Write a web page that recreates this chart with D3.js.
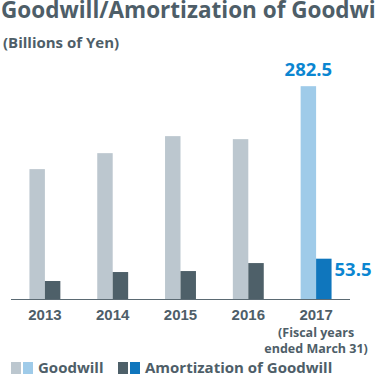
<!DOCTYPE html>
<html>
<head>
  <meta charset="utf-8">
  <title>Goodwill/Amortization of Goodwill</title>
  <script src="https://d3js.org/d3.v7.min.js"></script>
  <style>
    body { margin: 0; background: #fff; }
    svg { display: block; font-family: "Open Sans", Roboto, sans-serif; font-weight: bold; }
  </style>
</head>
<body>
  <div id="chart"></div>
  <script>
    const years = ["2013", "2014", "2015", "2016", "2017"];
    const goodwill = [172.4, 193.6, 216.2, 212.2, 282.5];
    const amortization = [23.9, 35.8, 37.1, 47.7, 53.5];
    const series = ["Goodwill", "Amortization of Goodwill"];

    const W = 376, H = 374;
    const svg = d3.select("#chart").append("svg")
      .attr("width", W).attr("height", H);

    const x = d3.scaleBand().domain(years).range([11, 350])
      .paddingInner(0.544).paddingOuter(0.272);
    const xs = d3.scaleBand().domain(series).range([0, x.bandwidth()]);
    const y = d3.scaleLinear().domain([0, 300]).range([299, 73]);

    const last = years[years.length - 1];
    const colors = {
      "Goodwill": ["#bcc7cf", "#9fcbe9"],
      "Amortization of Goodwill": ["#4e6069", "#0f76bd"]
    };
    const textColor = "#4e5e68";
    const blue = "#0b86d1";

    // title (runs past the right edge, as in the source)
    svg.append("text").attr("x", 1).attr("y", 18)
      .attr("font-size", 22.5).attr("fill", textColor)
      .text("Goodwill/Amortization of Goodwill");
    svg.append("text").attr("x", 3).attr("y", 48)
      .attr("font-size", 15).attr("fill", textColor)
      .text("(Billions of Yen)");

    const rows = years.map((yr, i) => ({ year: yr, values: [goodwill[i], amortization[i]] }));

    const g = svg.selectAll(".grp").data(rows).enter().append("g")
      .attr("transform", d => `translate(${x(d.year)},0)`);

    g.selectAll("rect").data(d => series.map((s, j) => ({ s, v: d.values[j], year: d.year })))
      .enter().append("rect")
      .attr("x", d => xs(d.s))
      .attr("width", xs.bandwidth())
      .attr("y", d => y(d.v))
      .attr("height", d => y(0) - y(d.v))
      .attr("fill", d => colors[d.s][d.year === last ? 1 : 0]);

    // baseline
    svg.append("line").attr("x1", 11).attr("x2", 350)
      .attr("y1", y(0) + 0.5).attr("y2", y(0) + 0.5)
      .attr("stroke", "#5b6a73").attr("stroke-width", 1);

    // value labels for latest year
    const li = years.length - 1;
    svg.append("text")
      .attr("x", x(last) + xs("Goodwill") + xs.bandwidth() / 2)
      .attr("y", y(goodwill[li]) - 10)
      .attr("text-anchor", "middle").attr("font-size", 18.5).attr("fill", blue)
      .text(goodwill[li].toFixed(1));
    svg.append("text")
      .attr("x", x(last) + xs("Amortization of Goodwill") + xs.bandwidth() + 3)
      .attr("y", y(amortization[li]) + 17)
      .attr("font-size", 18.5).attr("fill", blue)
      .text(amortization[li].toFixed(1));

    // x axis labels
    const axis = svg.append("g").attr("transform", `translate(0,${y(0)})`)
      .call(d3.axisBottom(x).tickSize(0).tickPadding(0));
    axis.select(".domain").remove();
    axis.selectAll("text").attr("font-size", 15).attr("fill", textColor)
      .attr("font-family", null).attr("dy", "1.4em");

    svg.append("text").attr("x", x(last) + x.bandwidth() / 2).attr("y", 337)
      .attr("text-anchor", "middle").attr("font-size", 12.5).attr("fill", textColor)
      .text("(Fiscal years");
    svg.append("text").attr("x", x(last) + x.bandwidth() / 2).attr("y", 353)
      .attr("text-anchor", "middle").attr("font-size", 12.5).attr("fill", textColor)
      .text("ended March 31)");

    // legend
    const legend = [
      { s: "Goodwill", x: 11 },
      { s: "Amortization of Goodwill", x: 118 }
    ];
    legend.forEach(l => {
      svg.append("rect").attr("x", l.x).attr("y", 362).attr("width", 10).attr("height", 12)
        .attr("fill", colors[l.s][0]);
      svg.append("rect").attr("x", l.x + 12).attr("y", 362).attr("width", 10).attr("height", 12)
        .attr("fill", colors[l.s][1]);
      svg.append("text").attr("x", l.x + 27).attr("y", 373)
        .attr("font-size", 15).attr("fill", textColor).text(l.s);
    });
  </script>
</body>
</html>
